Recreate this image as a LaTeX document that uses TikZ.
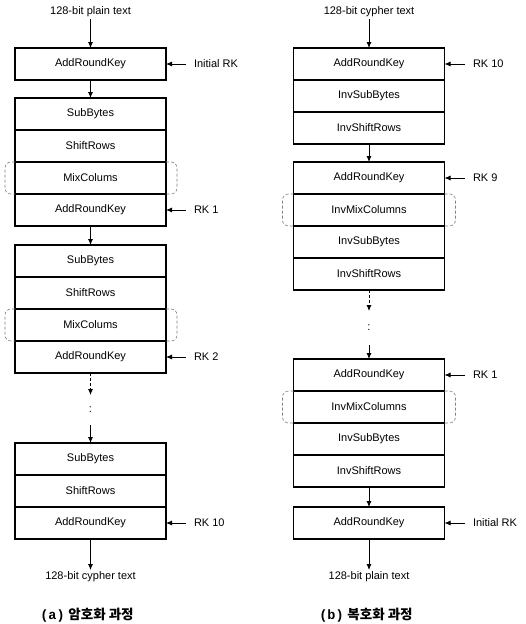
\documentclass[tikz,border=0pt]{standalone}
\usepackage{fontspec}
\setmainfont{Liberation Sans}
\newfontfamily\kor{Noto Sans CJK KR}
\newfontfamily\capmono{Liberation Mono}
\usetikzlibrary{arrows.meta}

\begin{document}
\begin{tikzpicture}[x=1pt,y=-1pt,
  font=\fontsize{11}{13}\selectfont,
  stage/.style={draw, line width=1.2pt, minimum width=151pt, minimum height=32pt,
                inner sep=0pt, outer sep=0pt},
  arr/.style={line width=0.8pt, -{Latex[length=6pt,width=5pt]}},
  faint/.style={arr, densely dashed},
  keylab/.style={anchor=west, inner xsep=8pt, inner ysep=2pt, outer sep=0pt},
  iotext/.style={inner sep=2pt, outer sep=0pt},
  dotsnode/.style={inner sep=0pt, outer sep=0pt},
  brk/.style={draw=gray, densely dashed, line width=0.6pt, rounded corners=6pt},
  capstyle/.style={font=\fontsize{13.5}{16}\selectfont}
]
\useasboundingbox (0,0) rectangle (526,624);

% ---------------- (a) encryption ----------------
\node[iotext] (ptin) at (90.5,12) {128-bit plain text};
\node[stage] (ark0) at (90.5,64) {AddRoundKey};
\node[keylab] (k0) at (186,64) {Initial RK};

\node[stage] (sb1) at (90.5,114) {SubBytes};
\node[stage] (sr1) at (90.5,146) {ShiftRows};
\node[stage] (mc1) at (90.5,178) {MixColums};
\node[stage] (ark1) at (90.5,210) {AddRoundKey};
\node[keylab] (k1) at (186,210) {RK 1};

\node[stage] (sb2) at (90.5,261) {SubBytes};
\node[stage] (sr2) at (90.5,293) {ShiftRows};
\node[stage] (mc2) at (90.5,325) {MixColums};
\node[stage] (ark2) at (90.5,357) {AddRoundKey};
\node[keylab] (k2) at (186,357) {RK 2};

\node[dotsnode, minimum height=30pt] (dotsA) at (90.5,410) {:};

\node[stage] (sb3) at (90.5,459) {SubBytes};
\node[stage] (sr3) at (90.5,491) {ShiftRows};
\node[stage] (ark3) at (90.5,523) {AddRoundKey};
\node[keylab] (k3) at (186,523) {RK 10};

\node[iotext, anchor=north] (ctout) at (90.5,570) {128-bit cypher text};

\draw[arr] (ptin.south) -- (ark0.north);
\draw[arr] (ark0.south) -- (sb1.north);
\draw[arr] (ark1.south) -- (sb2.north);
\draw[faint] (ark2.south) -- (dotsA.north);
\draw[arr] (dotsA.south) -- (sb3.north);
\draw[arr] (ark3.south) -- (ctout.north);
\foreach \k/\b in {k0/ark0,k1/ark1,k2/ark2,k3/ark3}
  \draw[arr] (\k.west) -- (\b.east);

\draw[brk] (mc1.north east) -- ++(11,0) -- ++(0,32) -- (mc1.south east);
\draw[brk] (mc1.north west) -- ++(-10,0) -- ++(0,32) -- (mc1.south west);
\draw[brk] (mc2.north east) -- ++(11,0) -- ++(0,32) -- (mc2.south east);
\draw[brk] (mc2.north west) -- ++(-10,0) -- ++(0,32) -- (mc2.south west);

% ---------------- (b) decryption ----------------
\node[iotext] (ctin) at (369,12) {128-bit cypher text};
\node[stage] (dark0) at (369,64) {AddRoundKey};
\node[keylab] (dk0) at (465,64) {RK 10};
\node[stage] (isb0) at (369,96) {InvSubBytes};
\node[stage] (isr0) at (369,128) {InvShiftRows};

\node[stage] (dark1) at (369,178) {AddRoundKey};
\node[keylab] (dk1) at (465,178) {RK 9};
\node[stage] (imc1) at (369,210) {InvMixColumns};
\node[stage] (isb1) at (369,242) {InvSubBytes};
\node[stage] (isr1) at (369,274) {InvShiftRows};

\node[dotsnode, minimum height=34pt] (dotsB) at (369,328) {:};

\node[stage] (dark2) at (369,375) {AddRoundKey};
\node[keylab] (dk2) at (465,375) {RK 1};
\node[stage] (imc2) at (369,407) {InvMixColumns};
\node[stage] (isb2) at (369,439) {InvSubBytes};
\node[stage] (isr2) at (369,471) {InvShiftRows};

\node[stage] (dark3) at (369,523) {AddRoundKey};
\node[keylab] (dk3) at (465,523) {Initial RK};

\node[iotext, anchor=north] (ptout) at (369,570) {128-bit plain text};

\draw[arr] (ctin.south) -- (dark0.north);
\draw[arr] (isr0.south) -- (dark1.north);
\draw[faint] (isr1.south) -- (dotsB.north);
\draw[arr] (dotsB.south) -- (dark2.north);
\draw[arr] (isr2.south) -- (dark3.north);
\draw[arr] (dark3.south) -- (ptout.north);
\foreach \k/\b in {dk0/dark0,dk1/dark1,dk2/dark2,dk3/dark3}
  \draw[arr] (\k.west) -- (\b.east);

\draw[brk] (imc1.north east) -- ++(11,0) -- ++(0,32) -- (imc1.south east);
\draw[brk] (imc1.north west) -- ++(-11,0) -- ++(0,32) -- (imc1.south west);
\draw[brk] (imc2.north east) -- ++(11,0) -- ++(0,32) -- (imc2.south east);
\draw[brk] (imc2.north west) -- ++(-11,0) -- ++(0,32) -- (imc2.south west);

% ---------------- captions ----------------
\node[capstyle] (capA) at (87,615) {{\capmono\bfseries (a)} {\kor\bfseries 암호화 과정}};
\node[capstyle] (capB) at (366,615) {{\capmono\bfseries (b)} {\kor\bfseries 복호화 과정}};
\end{tikzpicture}
\end{document}
